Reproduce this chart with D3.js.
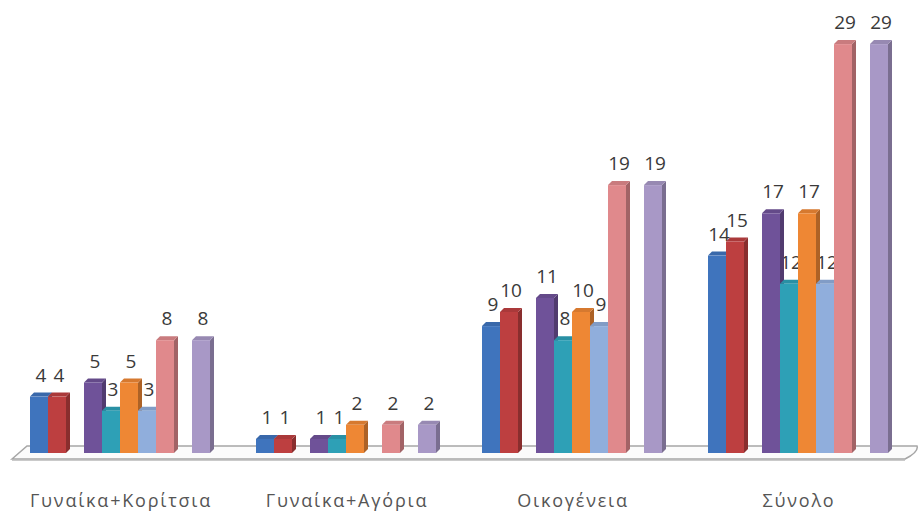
<!DOCTYPE html>
<html>
<head>
<meta charset="utf-8">
<title>chart</title>
<script src="https://cdn.jsdelivr.net/npm/d3@7"></script>
<style>
	body { margin: 0; background: #fff; }
	svg { display: block; }
</style>
</head>
<body>
<svg width="921" height="515"></svg>
<script>
var app = app || {};

// categories along the x axis
var categories = ["Γυναίκα+Κορίτσια", "Γυναίκα+Αγόρια", "Οικογένεια", "Σύνολο"];

// one array per series (null = no bar)
var series1 = [4, 1, 9, 14];
var series2 = [4, 1, 10, 15];
var series3 = [null, null, null, null];
var series4 = [5, 1, 11, 17];
var series5 = [3, 1, 8, 12];
var series6 = [5, 2, 10, 17];
var series7 = [3, null, 9, 12];
var series8 = [8, 2, 19, 29];
var series9 = [null, null, null, null];
var series10 = [8, 2, 19, 29];

var allSeries = [series1, series2, series3, series4, series5, series6, series7, series8, series9, series10];
var colors = ["#3f74bd", "#bd3f40", "#9bbb59", "#6f5299", "#2ea0b6", "#ee8734", "#90aedc", "#e0898c", "#afc97a", "#a898c6"];

app.main = (function(){

	function drawChart(){

		var svg = d3.select("svg"),
		depth = 4;

		var x0 = d3.scaleBand().domain(categories).range([7, 911]);
		var x1 = d3.scaleBand().domain(d3.range(allSeries.length)).range([23, 203]);
		var y = d3.scaleLinear().domain([0, 30]).range([453, 30]);

		// floor of the 3d plot
		svg.append("path")
		.attr("d", "M12,459 L27,446 L917,446 Q919,452 905,459 Z")
		.attr("fill", "#fbfbfb")
		.attr("stroke", "#a6a6a6")
		.attr("stroke-width", 1.5);
		svg.append("line")
		.attr("x1", 12).attr("x2", 905)
		.attr("y1", 460).attr("y2", 460)
		.attr("stroke", "#b8b8b8")
		.attr("stroke-width", 1.5);

		// flatten to one record per bar
		var bars = [];
		categories.forEach(function(c, ci){
			allSeries.forEach(function(s, si){
				if (s[ci] != null) bars.push({cat: c, si: si, value: s[ci]});
			});
		});

		// labels first, so neighbouring bars can cover them like the original
		svg.selectAll(".label")
		.data(bars)
		.enter().append("text")
		.attr("class", "label")
		.attr("x", function(d){ return x0(d.cat) + x1(d.si) + x1.bandwidth()/2 + 2; })
		.attr("y", function(d){ return y(d.value) - 15; })
		.attr("text-anchor", "middle")
		.attr("font-family", "'Open Sans', sans-serif")
		.attr("font-size", 19)
		.attr("fill", "#3a3a3a")
		.text(function(d){ return d.value; });

		var w = x1.bandwidth();

		var bar = svg.selectAll(".bar")
		.data(bars)
		.enter().append("g")
		.attr("class", "bar");

		// right side face
		bar.append("path")
		.attr("fill", function(d){ return d3.color(colors[d.si]).darker(0.9); })
		.attr("d", function(d){
			var x = x0(d.cat) + x1(d.si), t = y(d.value), b = y(0);
			return "M" + (x+w) + "," + t + " L" + (x+w+depth) + "," + (t-depth) +
				" L" + (x+w+depth) + "," + (b-depth) + " L" + (x+w) + "," + b + " Z";
		});

		// top face
		bar.append("path")
		.attr("fill", function(d){ return d3.color(colors[d.si]).darker(0.3); })
		.attr("d", function(d){
			var x = x0(d.cat) + x1(d.si), t = y(d.value);
			return "M" + x + "," + t + " L" + (x+w) + "," + t +
				" L" + (x+w+depth) + "," + (t-depth) + " L" + (x+depth) + "," + (t-depth) + " Z";
		});

		// front face
		bar.append("rect")
		.attr("x", function(d){ return x0(d.cat) + x1(d.si); })
		.attr("y", function(d){ return y(d.value); })
		.attr("width", w)
		.attr("height", function(d){ return y(0) - y(d.value); })
		.attr("fill", function(d){ return colors[d.si]; });

		// category labels
		svg.selectAll(".cat")
		.data(categories)
		.enter().append("text")
		.attr("class", "cat")
		.attr("x", function(d){ return x0(d) + 114; })
		.attr("y", 507)
		.attr("text-anchor", "middle")
		.attr("font-family", "'Open Sans', sans-serif")
		.attr("font-size", 18)
		.attr("letter-spacing", 1.8)
		.attr("fill", "#555")
		.text(function(d){ return d; });
	}

	var init = function(){
		drawChart();
	};

	return {
		init: init
	};
})();

window.addEventListener('DOMContentLoaded', app.main.init);
</script>
</body>
</html>
